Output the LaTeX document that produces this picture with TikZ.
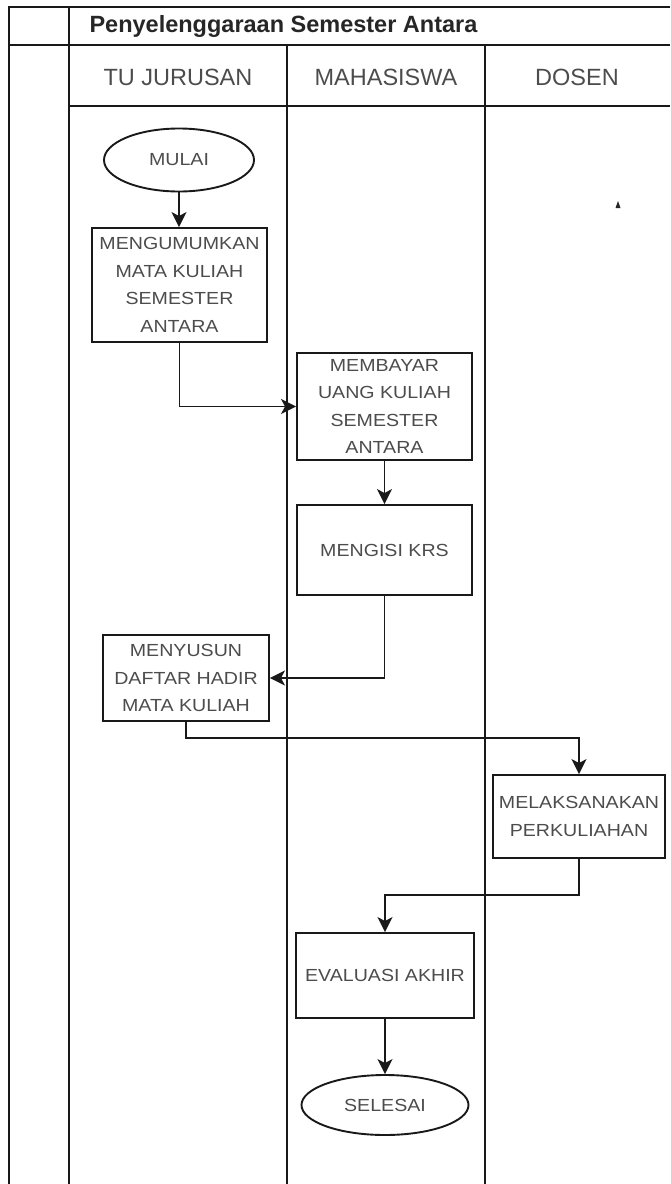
\documentclass[tikz,border=0pt]{standalone}
\usepackage{fontspec}
\setmainfont{Liberation Sans}
\newfontfamily\boxfont{Liberation Sans}[FakeStretch=1.12]
\usepackage{tikz}
\usetikzlibrary{arrows.meta, positioning, shapes.geometric}
\tikzset{
  lane/.style={line width=2pt, black!90},
  procbox/.style={draw=black!90, line width=1.9pt, rectangle, inner sep=0pt, align=center, text=black!70, font=\boxfont\fontsize{17.5}{27.5}\selectfont},
  terminal/.style={draw=black!90, line width=1.9pt, ellipse, inner sep=0pt, align=center, text=black!70, font=\boxfont\fontsize{17.5}{27.5}\selectfont},
  flow/.style={line width=1.9pt, black!90, -{Stealth[length=15pt, width=15pt, inset=4pt]}},
  lanehead/.style={text=black!70, font=\fontsize{23.5}{28}\selectfont}
}
\begin{document}
\begin{tikzpicture}[x=1pt, y=-1pt]
\useasboundingbox (0,0) rectangle (670,1184);
% Swimlane frame
\draw[lane] (670,7) -- (9,7) -- (9,1184);
\draw[lane] (9,45) -- (670,45);
\draw[lane] (69,7) -- (69,1184);
\draw[lane] (69,106) -- (670,106);
\draw[lane] (287,45) -- (287,1184);
\draw[lane] (485,45) -- (485,1184);
% Lane titles
\node[anchor=west, text=black!85, font=\bfseries\fontsize{23.5}{28}\selectfont] (title) at (86,26) {Penyelenggaraan Semester Antara};
\node[lanehead] (tuhead) at (178,77) {TU JURUSAN};
\node[lanehead] (mhshead) at (386,77) {MAHASISWA};
\node[lanehead] (dsnhead) at (577,77) {DOSEN};
% Steps
\node[terminal, minimum width=150pt, minimum height=63pt] (mulai) at (179,160) {MULAI};
\node[procbox, minimum width=175pt, minimum height=114pt] (umum) at (179.5,285) {MENGUMUMKAN\\MATA KULIAH\\SEMESTER\\ANTARA};
\node[procbox, minimum width=175pt, minimum height=107pt] (bayar) at (384.5,406.5) {MEMBAYAR\\UANG KULIAH\\SEMESTER\\ANTARA};
\node[procbox, minimum width=175pt, minimum height=90pt] (krs) at (384.5,550) {MENGISI KRS};
\node[procbox, minimum width=166pt, minimum height=86pt] (susun) at (186,678) {MENYUSUN\\DAFTAR HADIR\\MATA KULIAH};
\node[procbox, minimum width=172pt, minimum height=83pt] (laksana) at (579,816.5) {MELAKSANAKAN\\PERKULIAHAN};
\node[procbox, minimum width=178pt, minimum height=85pt] (evaluasi) at (385,975.5) {EVALUASI AKHIR};
\node[terminal, minimum width=167pt, minimum height=60pt] (selesai) at (385,1105) {SELESAI};
% Connectors
\draw[flow] (mulai.south) -- (mulai.south |- umum.north);
\draw[flow] (umum.south) |- (bayar.west);
\draw[flow] (bayar.south) -- (krs.north);
\draw[flow] (krs.south) |- (susun.east);
\draw[flow] (susun.south) -- ++(0,16) -| (laksana.north);
\draw[flow] (laksana.south) -- ++(0,36) -| (evaluasi.north);
\draw[flow] (evaluasi.south) -- (selesai.north);
% Stray mark
\fill[black!85] (615.5,208) -- (618,201) -- (620.5,208) -- cycle;
\end{tikzpicture}
\end{document}
